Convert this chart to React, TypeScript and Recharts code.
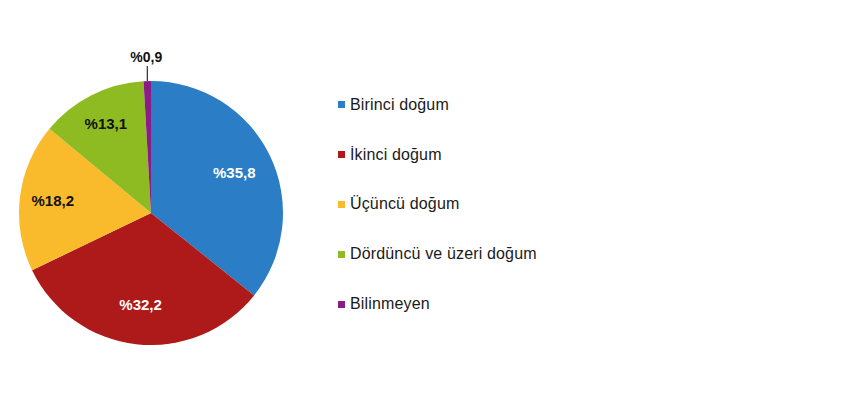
import React from "react";
import { PieChart, Pie, Cell, Legend } from "recharts";

const categories = [
  "Birinci doğum",
  "İkinci doğum",
  "Üçüncü doğum",
  "Dördüncü ve üzeri doğum",
  "Bilinmeyen",
];
const shares = [35.8, 32.2, 18.2, 13.1, 0.9];
const labels = ["%35,8", "%32,2", "%18,2", "%13,1", "%0,9"];
const colors = ["#2B7DC6", "#AE1A1A", "#F9BB2C", "#8FBB22", "#8A1C86"];
const labelColors = ["#ffffff", "#ffffff", "#111111", "#111111", "#111111"];
// how far out each label sits, as a part of the radius
const labelRadius = [0.7, 0.7, 0.75, 0.76, 1];

const data = categories.map((name, i) => ({ name, value: shares[i] }));

const RADIAN = Math.PI / 180;

const renderLabel = (props: any) => {
  const { cx, cy, midAngle, outerRadius, index } = props;
  const cos = Math.cos(-midAngle * RADIAN);
  const sin = Math.sin(-midAngle * RADIAN);
  if (index === 4) {
    const x0 = cx + outerRadius * cos;
    const y0 = cy + outerRadius * sin;
    const y1 = cy + (outerRadius + 15) * sin;
    return (
      <g>
        <line x1={x0} y1={y0} x2={x0} y2={y1} stroke="#000" strokeWidth={1} />
        <text
          x={x0 - 1}
          y={y1 - 4}
          textAnchor="middle"
          fill="#111"
          fontSize={14}
          fontWeight="bold"
          fontFamily="Liberation Sans, Arial, sans-serif"
        >
          {labels[index]}
        </text>
      </g>
    );
  }
  const r = outerRadius * labelRadius[index];
  const x = cx + r * cos;
  const y = cy + r * sin;
  return (
    <text
      x={x}
      y={y}
      textAnchor="middle"
      dominantBaseline="central"
      fill={labelColors[index]}
      fontSize={15}
      fontWeight="bold"
      fontFamily="Liberation Sans, Arial, sans-serif"
    >
      {labels[index]}
    </text>
  );
};

const renderLegend = () => (
  <div style={{ fontFamily: "Liberation Sans, Arial, sans-serif" }}>
    {categories.map((c, i) => (
      <div
        key={c}
        style={{
          display: "flex",
          alignItems: "center",
          height: 49.8,
          fontSize: 16,
          letterSpacing: 0.15,
          color: "#1a1a1a",
        }}
      >
        <span
          style={{
            display: "inline-block",
            width: 7,
            height: 7,
            background: colors[i],
            marginRight: 5,
          }}
        />
        {c}
      </div>
    ))}
  </div>
);

export default function App() {
  return (
    <PieChart width={834} height={384}>
      <Pie
        data={data}
        dataKey="value"
        nameKey="name"
        cx={138}
        cy={200}
        outerRadius={132}
        startAngle={90}
        endAngle={-270}
        stroke="none"
        label={renderLabel}
        labelLine={false}
        isAnimationActive={false}
      >
        {data.map((d, i) => (
          <Cell key={d.name} fill={colors[i]} />
        ))}
      </Pie>
      <Legend
        content={renderLegend}
        layout="vertical"
        wrapperStyle={{ left: 330, top: 72, width: 260 }}
      />
    </PieChart>
  );
}
